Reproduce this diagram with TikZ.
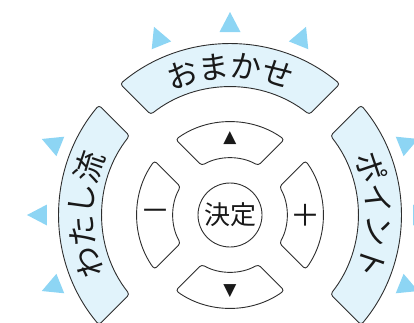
\documentclass[tikz,border=0pt]{standalone}
\usepackage{fontspec}
\newfontfamily\jp{Noto Sans CJK JP}
\newfontfamily\sym{DejaVu Sans}
\usetikzlibrary{calc}
\definecolor{keyblue}{HTML}{E1F3FB}
\definecolor{triblue}{HTML}{8DD5F4}
\definecolor{edge}{HTML}{2E2E2E}
\tikzset{
  key/.style={draw=edge, line width=0.9pt, rounded corners=3pt},
  outerkey/.style={key, fill=keyblue},
  innerkey/.style={key, fill=white},
  lbl/.style={font=\jp\fontsize{31}{31}\selectfont, text=black!90, inner sep=0pt},
  glyph/.style={font=\sym\fontsize{17}{17}\selectfont, text=black!90, inner sep=0pt}
}
\begin{document}
\begin{tikzpicture}
    \useasboundingbox (-230pt,-107pt) rectangle (184pt,215pt);

    % blue markers round the outside
    \foreach \a in {112,90,68,158,180,202,22,0,-22}
        \fill[triblue, rotate=\a] (183pt,10.5pt) -- (203pt,0pt) -- (183pt,-10.5pt) -- cycle;

    % outer ring: top, left, right keys
    \foreach \rot in {0,90,-90}
        \draw[outerkey, rotate=\rot] (50.03:171pt) arc[start angle=50.03, end angle=129.97, radius=171pt]
            -- (128.27:128pt) arc[start angle=128.27, end angle=51.73, radius=128pt] -- cycle;

    % inner ring: four cursor keys
    \foreach \rot in {0,90,180,270}
        \draw[innerkey, rotate=\rot] (54.28:93pt) arc[start angle=54.28, end angle=125.72, radius=93pt]
            -- (119.74:57pt) arc[start angle=119.74, end angle=60.26, radius=57pt] -- cycle;

    % centre button
    \node[draw=edge, line width=0.9pt, circle, minimum size=64pt, inner sep=0pt,
          font=\jp\fontsize{26}{26}\selectfont, text=black!90] (ok) at (0,0) {決定};

    % labels on the outer keys
    \node[lbl, rotate=18.75]  (o1) at (108.75:149pt) {お};
    \node[lbl, rotate=6.25]   (o2) at (96.25:149pt)  {ま};
    \node[lbl, rotate=-6.25]  (o3) at (83.75:149pt)  {か};
    \node[lbl, rotate=-18.75] (o4) at (71.25:149pt)  {せ};

    \node[lbl, rotate=108.75] (w1) at (198.75:149pt) {わ};
    \node[lbl, rotate=96.25]  (w2) at (186.25:149pt) {た};
    \node[lbl, rotate=83.75]  (w3) at (173.75:149pt) {し};
    \node[lbl, rotate=71.25]  (w4) at (161.25:149pt) {流};

    \node[lbl, rotate=-71.25]  (p1) at (18.75:149pt)  {ポ};
    \node[lbl, rotate=-83.75]  (p2) at (6.25:149pt)   {イ};
    \node[lbl, rotate=-96.25]  (p3) at (-6.25:149pt)  {ン};
    \node[lbl, rotate=-108.75] (p4) at (-18.75:149pt) {ト};

    % symbols on the cursor keys
    \node[glyph] (up) at (0,77pt) {▲};
    \node[glyph] (down) at (0,-76pt) {▼};
    \node[lbl, font=\jp\fontsize{30}{30}\selectfont] (minus) at (-75pt,0) {－};
    \node[lbl, font=\jp\fontsize{30}{30}\selectfont] (plus) at (75pt,0) {＋};
\end{tikzpicture}
\end{document}
